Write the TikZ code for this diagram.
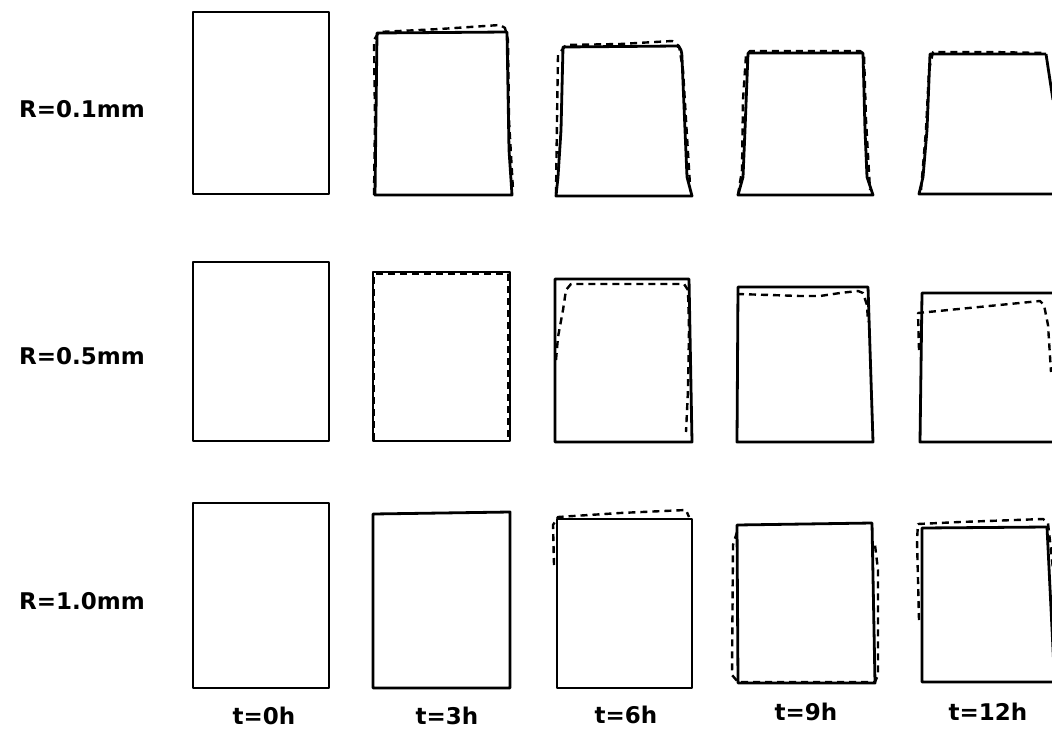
\documentclass[tikz,border=0pt]{standalone}
\usepackage{fontspec}
\setmainfont{DejaVu Sans}
\begin{document}
\begin{tikzpicture}[x=1pt,y=-1pt,
  solidln/.style={line width=2.8pt,line join=round},
  dashln/.style={line width=2.4pt,dash pattern=on 7pt off 5pt,line join=round},
  lbl/.style={font=\fontsize{23}{27}\selectfont\bfseries,inner sep=0pt}]
\useasboundingbox (0,0) rectangle (1052,747);
\fill[white] (0,0) rectangle (1052,747);
\begin{scope}
\clip (0,0) rectangle (1052,747);
% ---------- Row 1: R=0.1mm ----------
\draw[solidln] (193,12) rectangle (329,194);
% t=3
\draw[solidln] (377,33) -- (507,32) -- (509,150) -- (512,195) -- (375,195) -- cycle;
\draw[dashln] (374,195) -- (375,120) -- (374,40) -- (379,32) -- (440,29) -- (500,25) -- (505,28) -- (508,40) -- (509,120) -- (513,190);
% t=6
\draw[solidln] (563,47) -- (677,46) .. controls (681,47) and (682,52) .. (682,58)
  -- (685,130) -- (687,177) -- (692,196) -- (556,196) -- (558,177) -- (561,130) -- cycle;
\draw[dashln] (556,194) -- (557,120) -- (558,55) -- (566,45) -- (620,44) -- (672,41) -- (679,46) -- (683,70) -- (686,120) -- (690,185);
% t=9
\draw[solidln] (748,53) -- (863,53) -- (865,130) -- (867,177) -- (873,195) -- (738,195) -- (743,177) -- (745,130) -- cycle;
\draw[dashln] (738,195) -- (742,170) -- (743,100) -- (746,55) -- (750,51) -- (860,51) -- (864,54) -- (866,120) -- (870,190);
% t=12
\draw[solidln] (1046,54) -- (930,54) -- (927,130) -- (923,177) -- (919,194) -- (1060,194);
\draw[solidln] (1046,54) -- (1053,100);
\draw[dashln] (921,190) -- (926,130) -- (929,70) -- (933,52) -- (990,52) -- (1045,53);
% ---------- Row 2: R=0.5mm ----------
\draw[solidln] (193,262) rectangle (329,441);
% t=3
\draw[solidln] (373,272) rectangle (510,441);
\draw[dashln] (374,440) -- (374,274) -- (508,274) -- (508,437);
% t=6
\draw[solidln] (555,279) -- (689,279) -- (692,442) -- (555,442) -- cycle;
\draw[dashln] (556,360) -- (558,337) -- (563,310) -- (566,290) -- (571,284) -- (684,284) -- (688,290) -- (689,330) -- (688,390) -- (686,432);
% t=9
\draw[solidln] (738,287) -- (868,287) -- (873,442) -- (737,442) -- cycle;
\draw[dashln] (737,294) -- (770,295) -- (800,296) -- (820,296) -- (840,293) -- (858,291) -- (863,293) -- (867,305) -- (868,322);
% t=12
\draw[solidln] (1060,293) -- (922,293) -- (920,442) -- (1060,442);
\draw[dashln] (919,350) -- (918,313) -- (1040,301) -- (1044,305) -- (1048,325) -- (1051,372);
% ---------- Row 3: R=1.0mm ----------
\draw[solidln] (193,503) rectangle (329,688);
% t=3
\draw[solidln] (373,514) -- (510,512) -- (510,688) -- (373,688) -- cycle;
% t=6
\draw[solidln] (557,519) -- (692,519) -- (692,688) -- (557,688) -- cycle;
\draw[dashln] (554,565) -- (553,525) -- (558,517) -- (620,513) -- (686,510) -- (689,517);
% t=9
\draw[solidln] (737,525) -- (872,523) -- (875,683) -- (738,683) -- cycle;
\draw[dashln] (737,532) -- (733,545) -- (732,675) -- (738,682) -- (875,682) -- (878,675) -- (878,570) -- (875,545);
% t=12
\draw[solidln] (1047,527) -- (922,528) -- (922,682) -- (1060,682);
\draw[solidln] (1047,527) -- (1055,690);
\draw[dashln] (919,620) -- (917,540) -- (918,524) -- (960,522) -- (1043,519) -- (1048,523) -- (1051,550) -- (1053,570);
\end{scope}
% ---------- Labels ----------
\node[lbl,anchor=base west] (r1) at (19,117) {R=0.1mm};
\node[lbl,anchor=base west] (r2) at (19,364) {R=0.5mm};
\node[lbl,anchor=base west] (r3) at (19,609) {R=1.0mm};
\node[lbl,anchor=base] (t0) at (264,724) {t=0h};
\node[lbl,anchor=base] (t3) at (447,724) {t=3h};
\node[lbl,anchor=base] (t6) at (626,723) {t=6h};
\node[lbl,anchor=base] (t9) at (806,720) {t=9h};
\node[lbl,anchor=base] (t12) at (988,720) {t=12h};
\end{tikzpicture}
\end{document}
